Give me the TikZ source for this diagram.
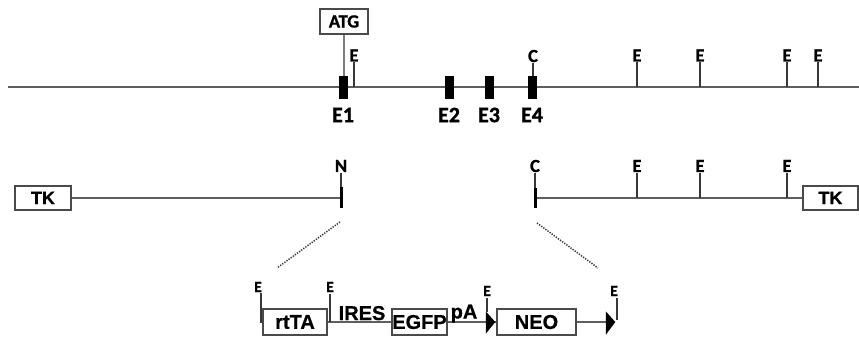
\documentclass[tikz,border=0pt]{standalone}
\usepackage{fontspec}
\setmainfont{Carlito}[BoldFeatures={FakeBold=1.2}]
\newfontfamily\arialf{Liberation Sans}[BoldFeatures={FakeBold=0.6}]
\definecolor{lineg}{HTML}{5E5E5E}
\definecolor{tickg}{HTML}{383838}
\definecolor{boxg}{HTML}{4A4A4A}
\tikzset{
  backbone/.style={draw=lineg, line width=1.6pt},
  ticker/.style={draw=tickg, line width=1.4pt},
  thinline/.style={draw=lineg!80, line width=1.3pt},
  marker/.style={draw=black, line width=3pt},
  exon/.style={fill=black, draw=none, rectangle, inner sep=0, minimum width=9pt, minimum height=23pt},
  lab/.style={font=\bfseries\fontsize{18.5}{18.5}\selectfont, inner sep=0.5pt, text=black},
  smalllab/.style={font=\bfseries\fontsize{15.5}{15.5}\selectfont, inner sep=0.5pt, text=black},
  exlab/.style={font=\bfseries\fontsize{22}{22}\selectfont, inner sep=0, text=black},
  gbox/.style={draw=boxg, line width=1.2pt, fill=white, rectangle, inner sep=0, font=\arialf\bfseries\fontsize{20}{20}\selectfont},
  tkbox/.style={draw=boxg, line width=1.2pt, fill=white, rectangle, inner sep=0, minimum height=24pt, font=\arialf\bfseries\fontsize{18}{18}\selectfont},
  blab/.style={font=\arialf\bfseries\fontsize{20}{20}\selectfont, inner sep=0, text=black},
  dots/.style={draw=tickg, line width=1.5pt, dash pattern=on 1.3pt off 1.3pt},
  arrowtri/.style={fill=black, draw=black, line width=0.4pt}
}
\begin{document}
\begin{tikzpicture}[x=1pt,y=-1pt]
\useasboundingbox (0,0) rectangle (859,337);
% ---------- top: genomic locus ----------
\coordinate (L0) at (8,87);
\coordinate (R0) at (859,87);
\draw[backbone] (L0) -- (R0);
\node[exon] (e1) at (343,87.5) {};
\node[exon] (e2) at (449,87.5) {};
\node[exon] (e3) at (489,87.5) {};
\node[exon] (e4) at (532,87.5) {};
\node[exlab] (le1) at (343,115) {E1};
\node[exlab] (le2) at (449,115) {E2};
\node[exlab] (le3) at (489,115) {E3};
\node[exlab] (le4) at (532,115) {E4};
\node[draw=boxg, line width=1.2pt, fill=white, minimum width=48pt, minimum height=25pt, inner sep=0, lab] (atg) at (344,21.5) {ATG};
\draw[thinline] (atg.south) -- (atg.south |- e1.north);
% C above E4
\node[lab] (lc0) at (533,56) {C};
\draw[ticker] (lc0.south) -- (lc0.south |- e4.north);
% E sites
\foreach \n/\xx in {a/354, b/637, c/700, d/787, e/818} {
  \node[lab] (le\n) at (\xx,55.5) {E};
  \draw[ticker] (le\n.south) -- (le\n.south |- L0);
}
% ---------- middle: targeting vector arms ----------
\node[tkbox, minimum width=56pt] (tkl) at (43,198) {TK};
\node[tkbox, minimum width=55pt] (tkr) at (830.5,198) {TK};
\coordinate (nm) at (341,198);
\coordinate (cm) at (535,198);
\draw[backbone] (tkl.east) -- (nm);
\draw[backbone] (cm) -- (tkr.west);
\node[lab] (ln) at (341,166) {N};
\node[lab] (lc) at (535,166) {C};
\draw[ticker] (ln.south) -- (341,187);
\draw[marker] (341,187) -- (341,208);
\draw[ticker] (lc.south) -- (535,188);
\draw[marker] (535,188) -- (535,208);
\foreach \n/\xx in {f/637, g/700, h/787} {
  \node[lab] (le\n) at (\xx,166) {E};
  \draw[ticker] (le\n.south) -- (le\n.south |- cm);
}
% dotted zoom lines
\coordinate (d1a) at (340,222);
\coordinate (d1b) at (277,268);
\coordinate (d2a) at (537,223);
\coordinate (d2b) at (598,268);
\draw[dots] (d1a) -- (d1b);
\draw[dots] (d2a) -- (d2b);
% ---------- bottom: cassette ----------
\node[gbox, minimum width=64pt, minimum height=26pt] (rtta) at (295,322) {rtTA};
\node[gbox, minimum width=55pt, minimum height=26pt] (egfp) at (419.5,322) {EGFP};
\node[gbox, minimum width=79pt, minimum height=26pt] (neo) at (536.5,322) {NEO};
\coordinate (tri1) at (486,322);
\coordinate (tri2) at (606,322);
\draw[backbone] (rtta.east) -- (egfp.west);
\draw[backbone] (egfp.east) -- (tri1);
\draw[backbone] (tri1) -- (neo.west);
\draw[backbone] (neo.east) -- (tri2);
\fill[arrowtri] (tri1) ++(0,-10) -- ++(9,10) -- ++(-9,11) -- cycle;
\fill[arrowtri] (tri2) ++(0,-10) -- ++(9,10) -- ++(-9,12) -- cycle;
\node[blab, anchor=base] (ires) at (362,320) {IRES};
\node[blab, anchor=base] (pa) at (464,318.5) {pA};
% E sites in cassette
\node[smalllab] (lbi) at (258,287) {E};
\node[smalllab] (lbj) at (330,287) {E};
\node[smalllab] (lbk) at (487,291) {E};
\node[smalllab] (lbl) at (614,291) {E};
\draw[ticker] (261,293) -- (261,322) -- (rtta.west |- 261,322);
\draw[ticker] (330,294) -- (330,322);
\draw[ticker] (487,298) -- (487,312);
\draw[ticker] (617,298) -- (617,320);
\end{tikzpicture}
\end{document}
